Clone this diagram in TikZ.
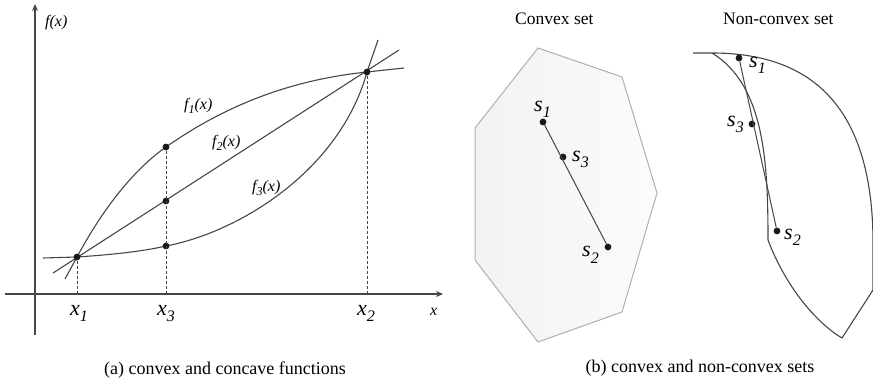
\documentclass[tikz,border=0pt]{standalone}
\usepackage{fontspec}
\setmainfont{Liberation Serif}
\usetikzlibrary{arrows.meta}
\newcommand{\bsub}[2]{{\fontsize{22}{24}\selectfont\itshape #1\raisebox{-6pt}{\fontsize{16}{18}\selectfont #2}}}
\newcommand{\fsub}[1]{{\fontsize{16}{18}\selectfont\itshape f\raisebox{-4pt}{\fontsize{12}{14}\selectfont #1}(x)}}
\definecolor{ln}{HTML}{464646}
\tikzset{
  dot/.style={circle,fill=black!90,inner sep=0pt,minimum size=6.8pt},
  lbl/.style={inner sep=0pt,anchor=base west},
  curve/.style={draw=ln,line width=1.1pt},
  axis/.style={draw=ln,line width=1.1pt,-{Stealth[length=7pt,width=6pt]}},
  drop/.style={draw=ln,line width=0.8pt,dash pattern=on 3pt off 2pt},
  captxt/.style={inner sep=0pt,font=\fontsize{18}{20}\selectfont}
}
\begin{document}
\begin{tikzpicture}[x=1pt,y=-1pt]
\useasboundingbox (0,0) rectangle (873,382);
% ---------- (a) functions ----------
\coordinate (yb) at (35,335);
\coordinate (yt) at (35,4);
\coordinate (xl) at (5,294);
\coordinate (xr) at (443,294);
\draw[axis] (yb) -- (yt);
\draw[axis] (xl) -- (xr);
\coordinate (a1) at (77,294);
\coordinate (a3) at (166,294);
\coordinate (a2) at (367,294);
% f1 concave
\draw[curve] (65,279) -- (77,257) .. controls (105,205) and (136,168) .. (166,147)
  .. controls (233,100) and (300,79) .. (367,72) -- (404,68);
% f2 line
\draw[curve] (53,273) -- (399,50);
% f3 convex
\draw[curve] (43,258) -- (77,257) .. controls (107,255) and (140,252) .. (166,246)
  .. controls (240,232) and (340,170) .. (367,72) -- (378,40);
\node[dot] (p1) at (77,257) {};
\node[dot] (q1) at (166,147) {};
\node[dot] (q2) at (166,201) {};
\node[dot] (q3) at (166,246) {};
\node[dot] (p2) at (367,72) {};
\draw[drop] (p1) -- (a1);
\draw[drop] (q1) -- (a3);
\draw[drop] (p2) -- (a2);
\node[lbl] (fx) at (45,27) {\fontsize{16}{18}\selectfont\itshape f(x)};
\node[lbl] (xx) at (430,315) {\fontsize{16}{18}\selectfont\itshape x};
\node[lbl] (lx1) at (70,315) {\bsub{x}{1}};
\node[lbl] (lx3) at (157,315) {\bsub{x}{3}};
\node[lbl] (lx2) at (357,315) {\bsub{x}{2}};
\node[lbl] (lf1) at (184,110) {\fsub{1}};
\node[lbl] (lf2) at (212,147) {\fsub{2}};
\node[lbl] (lf3) at (252,192) {\fsub{3}};
\node[captxt] (capa) at (225,370) {(a) convex and concave functions};
% ---------- (b) sets ----------
\node[lbl] (t1) at (515,25) {\fontsize{17.5}{20}\selectfont Convex set};
\node[lbl] (t2) at (723,25) {\fontsize{17.5}{20}\selectfont Non-convex set};
\filldraw[draw=gray!60,line width=1pt,left color=gray!10,right color=gray!3]
  (538,48) -- (622,77) -- (657,193) -- (622,312) -- (538,342) -- (475,260) -- (475,128) -- cycle;
\node[dot] (c1) at (543,122) {};
\node[dot] (c3) at (563,157) {};
\node[dot] (c2) at (608,247) {};
\draw[ln,line width=1pt] (c1) -- (c2);
\node[lbl] (lc1) at (534,112) {\bsub{s}{1}};
\node[lbl] (lc3) at (572,162) {\bsub{s}{3}};
\node[lbl] (lc2) at (582,257) {\bsub{s}{2}};
% non-convex shape
\draw[curve,line join=round] (693,53) -- (712,53)
  .. controls (810,53) and (872,105) .. (873,240) -- (873,290) -- (842,338)
  .. controls (815,322) and (785,285) .. (768,240)
  .. controls (768,160) and (764,85) .. (712,53);
\node[dot] (n1) at (739,58) {};
\node[dot] (n3) at (752,124) {};
\node[dot] (n2) at (777,231) {};
\draw[ln,line width=1pt] (n1) -- (n2);
\node[lbl] (ln1) at (749,68) {\bsub{s}{1}};
\node[lbl] (ln3) at (727,127) {\bsub{s}{3}};
\node[lbl] (ln2) at (784,240) {\bsub{s}{2}};
\node[captxt] (capb) at (700,368) {(b) convex and non-convex sets};
\end{tikzpicture}
\end{document}
